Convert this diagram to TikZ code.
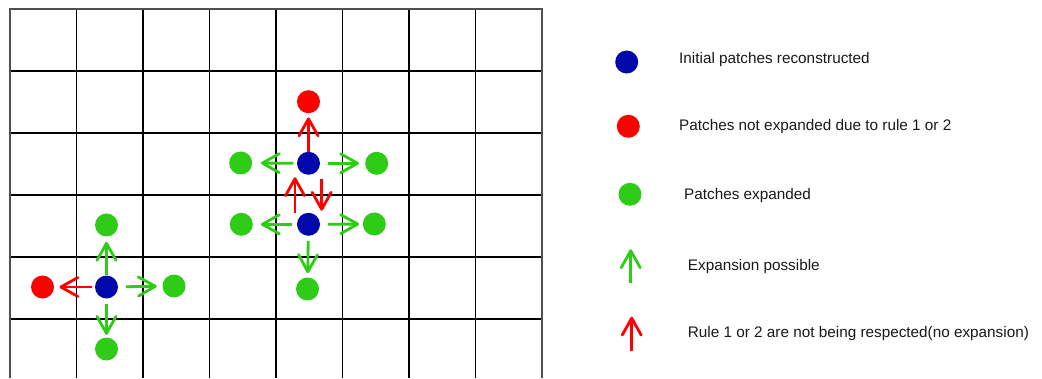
\documentclass[tikz,border=0pt]{standalone}
\usepackage{fontspec}
\setmainfont{Liberation Sans}
\usetikzlibrary{arrows.meta,calc}
\definecolor{pblue}{RGB}{0,8,172}
\definecolor{pred}{RGB}{255,0,0}
\definecolor{pgreen}{RGB}{46,204,22}
\definecolor{gridedge}{RGB}{80,80,80}
\definecolor{txt}{RGB}{25,25,25}
\tikzset{
  dot/.style={circle,minimum size=23pt,inner sep=0pt,draw=none},
  bdot/.style={dot,fill=pblue},
  rdot/.style={dot,fill=pred},
  gdot/.style={dot,fill=pgreen},
  tipline/.style={line width=2.8pt,-{Straight Barb[length=17pt,width=19pt,round]}},
  garrow/.style={tipline,draw=pgreen},
  rarrow/.style={tipline,draw=pred},
  gridline/.style={line width=1.6pt,draw=black},
  edgeline/.style={line width=1.6pt,draw=gridedge},
  legtext/.style={anchor=base west,inner sep=0pt,text=txt,font=\fontsize{15.3}{18}\selectfont}
}
\begin{document}
\begin{tikzpicture}[x=1pt,y=1pt]
\useasboundingbox[fill=white] (0,0) rectangle (1042,378);
% grid
\foreach \k in {1,...,7} {
  \draw[gridline] ({10+66.5*\k},0) -- ({10+66.5*\k},369);
}
\foreach \k in {1,...,5} {
  \draw[gridline] (10,{369-62*\k}) -- (542,{369-62*\k});
}
\draw[edgeline] (10,0) -- (10,369) -- (542,369) -- (542,0);
% bottom-left group
\node[bdot] (b1) at (106.5,91) {};
\node[rdot] (r1) at (42.5,91) {};
\node[gdot] (g1) at (106.5,153) {};
\node[gdot] (g2) at (174,92) {};
\node[gdot] (g3) at (106.5,29) {};
\draw[garrow,shorten <=0.5pt,shorten >=5.2pt] (b1) -- (g1);
\draw[rarrow,shorten <=3.3pt,shorten >=5.3pt] (b1) -- (r1);
\draw[garrow,shorten <=8pt,shorten >=5.5pt] (b1) -- (g2);
\draw[garrow,shorten <=4.8pt,shorten >=2.5pt] (b1) -- (g3);
% upper group
\node[bdot] (b2) at (308.5,214.7) {};
\node[bdot] (b3) at (308.5,153.7) {};
\node[rdot] (r2) at (308.5,276.3) {};
\node[gdot] (g4) at (240.7,215) {};
\node[gdot] (g5) at (376.7,214.7) {};
\node[gdot] (g6) at (241.3,153.7) {};
\node[gdot] (g7) at (374.3,154) {};
\node[gdot] (g8) at (307.5,89) {};
\draw[rarrow,shorten <=0pt,shorten >=4pt] (b2) -- (r2);
\draw[garrow,shorten <=3.5pt,shorten >=8.5pt] (b2) -- (g4);
\draw[garrow,shorten <=7.5pt,shorten >=6pt] (b2) -- (g5);
\draw[garrow,shorten <=4.8pt,shorten >=7.9pt] (b3) -- (g6);
\draw[garrow,shorten <=7.8pt,shorten >=3.5pt] (b3) -- (g7);
\draw[garrow,shorten <=4.9pt,shorten >=4.2pt] (b3) -- (g8);
\draw[rarrow] ($(b3)+(-13.5,11.6)$) -- ($(b3)+(-13.5,47)$);
\draw[rarrow] ($(b2)+(13.2,-16)$) -- ($(b2)+(13.2,-47.4)$);
% legend
\node[bdot] (lb) at (626.7,316) {};
\node[rdot] (lr) at (628.3,251.7) {};
\node[gdot] (lg) at (630,183.7) {};
\coordinate (lgs) at (630.7,95.3);
\coordinate (lge) at (630.7,128.7);
\coordinate (lrs) at (631.7,27.3);
\coordinate (lre) at (631.7,61.3);
\draw[garrow] (lgs) -- (lge);
\draw[rarrow] (lrs) -- (lre);
\node[legtext] (t1) at (679,314) {Initial patches reconstructed};
\node[legtext] (t2) at (679,247.3) {Patches not expanded due to rule 1 or 2};
\node[legtext] (t3) at (684,178.7) {Patches expanded};
\node[legtext] (t4) at (687.7,107) {Expansion possible};
\node[legtext] (t5) at (687.7,40.7) {Rule 1 or 2 are not being respected(no expansion)};
\end{tikzpicture}
\end{document}
